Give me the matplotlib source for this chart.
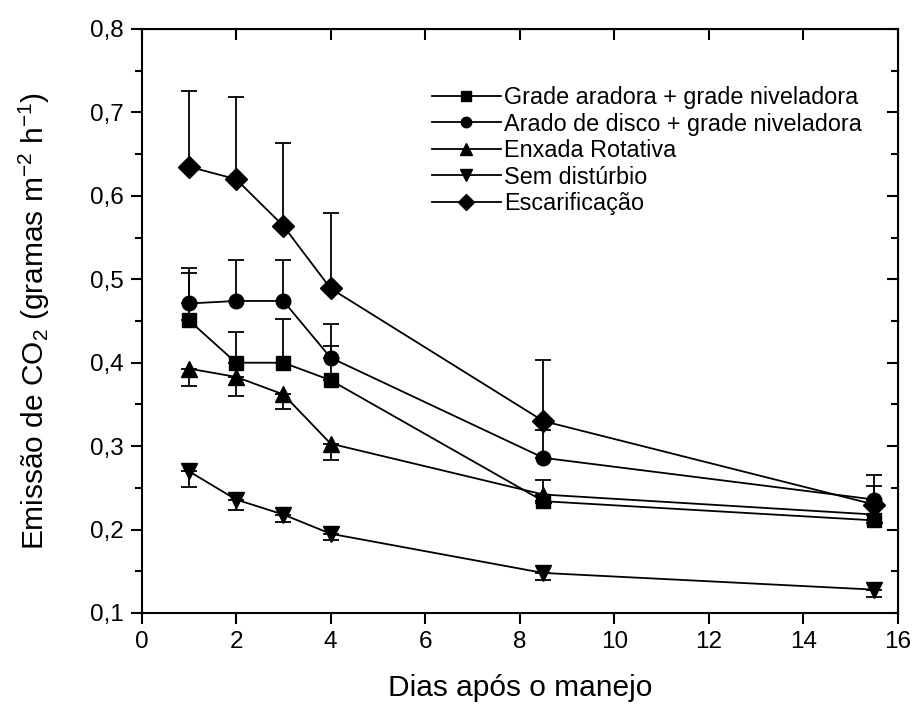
import matplotlib
matplotlib.use("Agg")
import matplotlib.pyplot as plt
from matplotlib.lines import Line2D
from matplotlib.ticker import MultipleLocator, FuncFormatter

plt.rcParams['font.family'] = ['Liberation Sans', 'DejaVu Sans']
plt.rcParams['mathtext.fontset'] = 'custom'
plt.rcParams['mathtext.rm'] = 'Liberation Sans'
plt.rcParams['mathtext.it'] = 'Liberation Sans'

days = [1, 2, 3, 4, 8.5, 15.5]

labels = ["Grade aradora + grade niveladora",
          "Arado de disco + grade niveladora",
          "Enxada Rotativa",
          "Sem distúrbio",
          "Escarificação"]

grade = [0.451, 0.400, 0.400, 0.379, 0.234, 0.211]
grade_up = [0.056, 0.037, 0.052, 0.041, 0.026, 0.041]

arado = [0.471, 0.474, 0.474, 0.406, 0.286, 0.236]
arado_up = [0.043, 0.049, 0.049, 0.041, 0.033, 0.029]

enxada = [0.393, 0.383, 0.362, 0.303, 0.242, 0.218]
enxada_down = [0.021, 0.023, 0.017, 0.020, 0.0, 0.0]

sem = [0.270, 0.236, 0.218, 0.195, 0.148, 0.128]
sem_down = [0.019, 0.012, 0.009, 0.008, 0.008, 0.009]

escar = [0.635, 0.620, 0.564, 0.489, 0.330, 0.230]
escar_up = [0.091, 0.098, 0.099, 0.090, 0.073, 0.0]

fig = plt.figure(figsize=(9.17, 7.05), dpi=100)
ax = fig.add_axes([141.5/917, 1-613/705, (898-141.5)/917, (613-29)/705])

zeros = [0]*len(days)
series = [
    (grade, [zeros, grade_up], 's', 9.5, 7),
    (arado, [zeros, arado_up], 'o', 10.5, 7.5),
    (enxada, [enxada_down, zeros], '^', 11.5, 8.5),
    (sem, [sem_down, zeros], 'v', 11.5, 8.5),
    (escar, [zeros, escar_up], 'D', 11, 8),
]
handles = []
for (vals, err, mk, ms, lms), lab in zip(series, labels):
    ax.errorbar(days, vals, yerr=err, fmt='-', marker=mk, color='black',
                markersize=ms, linewidth=1.3, elinewidth=1.3, capsize=6,
                capthick=1.3)
    handles.append(Line2D([], [], color='black', linewidth=1.3, marker=mk,
                          markersize=lms, label=lab))

ax.set_xlim(0, 16)
ax.set_ylim(0.1, 0.8)
ax.xaxis.set_major_locator(MultipleLocator(2))
ax.yaxis.set_major_locator(MultipleLocator(0.1))
ax.yaxis.set_minor_locator(MultipleLocator(0.05))
ax.yaxis.set_major_formatter(FuncFormatter(lambda v, p: f"{v:.1f}".replace('.', ',')))
ax.tick_params(axis='both', which='major', direction='out', length=8, width=1.5,
               labelsize=17.5, pad=5)
ax.tick_params(axis='y', which='minor', direction='out', length=5, width=1.5)
for s in ax.spines.values():
    s.set_linewidth(1.5)

# inward ticks on top and right
axt = ax.secondary_xaxis('top')
axt.xaxis.set_major_locator(MultipleLocator(2))
axt.tick_params(direction='in', length=8, width=1.5, labeltop=False)
axt.set_xticklabels([])
axr = ax.secondary_yaxis('right')
axr.yaxis.set_major_locator(MultipleLocator(0.1))
axr.yaxis.set_minor_locator(MultipleLocator(0.05))
axr.tick_params(which='major', direction='in', length=8, width=1.5)
axr.tick_params(which='minor', direction='in', length=5, width=1.5)
axr.set_yticklabels([])

ax.set_xlabel("Dias após o manejo", fontsize=21.5, labelpad=15)
ax.set_ylabel("Emissão de CO$_2$ (gramas m$^{-2}$ h$^{-1}$)", fontsize=21.5, labelpad=27)

leg = ax.legend(handles=handles, loc='upper left',
                bbox_to_anchor=(432/917, 1-86/705), bbox_transform=fig.transFigure,
                frameon=False, fontsize=16.8, handlelength=2.95,
                labelspacing=0.15, handletextpad=0.15, borderaxespad=0, borderpad=0)

fig.savefig("out.png", dpi=100)
